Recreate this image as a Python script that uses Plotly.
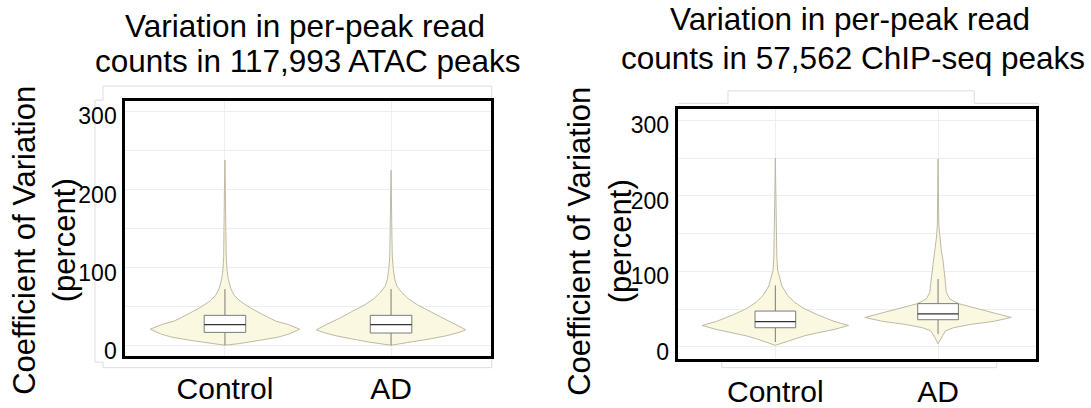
import plotly.graph_objects as go

W, H = 1091, 408

categories = ["Control", "AD"]
panel_titles = [["Variation in per-peak read", "counts in 117,993 ATAC peaks"],
                ["Variation in per-peak read", "counts in 57,562 ChIP-seq peaks"]]
y_title = "Coefficient of Variation<br>(percent)"
y_tick_vals = [0, 100, 200, 300]

# ---- ATAC panel: violin profiles (value, relative density) ----
atac_ctrl_y = [0.8, 2.9, 7, 11.1, 15.2, 21.3, 27.5, 31.6, 39.8, 48, 56.3, 64.4, 72.7, 85, 97.3, 113.7, 146.5, 200, 237.7]
atac_ctrl_d = [0, 0.19, 0.46, 0.71, 0.86, 1.0, 0.84, 0.68, 0.51, 0.35, 0.215, 0.125, 0.08, 0.045, 0.027, 0.017, 0.012, 0.007, 0]
atac_ad_y = [0.8, 4.9, 9, 13.1, 17.2, 20.5, 27.5, 35.7, 44, 52, 60.3, 68.6, 76.7, 85, 97.3, 113.7, 138, 180, 224.5]
atac_ad_d = [0, 0.30, 0.53, 0.75, 0.91, 1.0, 0.86, 0.68, 0.52, 0.36, 0.23, 0.14, 0.077, 0.05, 0.031, 0.017, 0.012, 0.007, 0]
# box stats [Control, AD]
atac_q1 = [17.2, 16.4]
atac_median = [27.1, 27.1]
atac_q3 = [39.0, 39.0]
atac_lower = [1.0, 1.0]
atac_upper = [72.7, 72.7]

# ---- ChIP-seq panel ----
chip_ctrl_y = [2.1, 3.8, 10.2, 14.5, 18.7, 23, 28.4, 33.9, 42.4, 50.9, 59.4, 67.9, 80.6, 93.3, 101.8, 120, 152.7, 200, 250]
chip_ctrl_d = [0, 0.05, 0.24, 0.39, 0.58, 0.8, 1.0, 0.8, 0.58, 0.39, 0.26, 0.17, 0.09, 0.054, 0.031, 0.02, 0.013, 0.007, 0]
chip_ad_y = [4.2, 12.7, 21.2, 25.4, 29.7, 33.9, 39, 44.5, 50.9, 57.3, 63.6, 72.1, 84.8, 101.8, 114.5, 127.2, 144.2, 161.2, 186.6, 249]
chip_ad_d = [0, 0.045, 0.1, 0.21, 0.44, 0.76, 1.0, 0.78, 0.53, 0.28, 0.16, 0.113, 0.1, 0.086, 0.068, 0.045, 0.023, 0.01, 0.007, 0]
chip_q1 = [25.4, 36.0]
chip_median = [33.5, 43.7]
chip_q3 = [47.5, 57.3]
chip_lower = [6.4, 17.0]
chip_upper = [81.4, 89.9]

FONT = "Liberation Sans, Arial, sans-serif"
VIOLIN_FILL = "#FBF8E1"
VIOLIN_LINE = "#bdb9a4"
BOX_LINE = "#7a7a7a"
MEDIAN_LINE = "#333333"
HALF_WIDTH = 0.45
BOX_WIDTH = 0.25

fig = go.Figure()

panels = [
    dict(xa="x", ya="y", profiles=[(atac_ctrl_y, atac_ctrl_d), (atac_ad_y, atac_ad_d)],
         q1=atac_q1, med=atac_median, q3=atac_q3, lo=atac_lower, hi=atac_upper),
    dict(xa="x2", ya="y2", profiles=[(chip_ctrl_y, chip_ctrl_d), (chip_ad_y, chip_ad_d)],
         q1=chip_q1, med=chip_median, q3=chip_q3, lo=chip_lower, hi=chip_upper),
]

common = dict(showlegend=False, hoverinfo="skip")
for p in panels:
    ax = dict(xaxis=p["xa"], yaxis=p["ya"])
    for i, (ys, ds) in enumerate(p["profiles"]):
        pos = i + 1
        xs = [pos + HALF_WIDTH * d for d in ds] + [pos - HALF_WIDTH * d for d in reversed(ds)]
        yy = list(ys) + list(reversed(ys))
        fig.add_trace(go.Scatter(x=xs, y=yy, mode="lines", fill="toself",
                                 fillcolor=VIOLIN_FILL, line=dict(color=VIOLIN_LINE, width=1),
                                 **ax, **common))
    for i in range(len(categories)):
        pos = i + 1
        a, b = pos - BOX_WIDTH / 2, pos + BOX_WIDTH / 2
        # whiskers
        fig.add_trace(go.Scatter(x=[pos, pos, None, pos, pos],
                                 y=[p["q3"][i], p["hi"][i], None, p["q1"][i], p["lo"][i]],
                                 mode="lines", line=dict(color=BOX_LINE, width=1), **ax, **common))
        # box
        fig.add_trace(go.Scatter(x=[a, b, b, a, a],
                                 y=[p["q1"][i], p["q1"][i], p["q3"][i], p["q3"][i], p["q1"][i]],
                                 mode="lines", fill="toself", fillcolor="white",
                                 line=dict(color=BOX_LINE, width=1), **ax, **common))
        # median
        fig.add_trace(go.Scatter(x=[a, b], y=[p["med"][i], p["med"][i]], mode="lines",
                                 line=dict(color=MEDIAN_LINE, width=1.2), **ax, **common))

def px(x, y):
    return x / W, 1 - y / H

l_dom_x = [125.3 / W, 490.7 / W]
r_dom_x = [677.7 / W, 1035.7 / W]
l_dom_y = [1 - 370 / H, 1 - 105 / H]
r_dom_y = [1 - 372.7 / H, 1 - 113.5 / H]

axis_common = dict(showline=True, linecolor="black", linewidth=3, mirror=True,
                   showgrid=True, gridcolor="#eeeeee", gridwidth=1, zeroline=False,
                   ticks="", color="black")
x_common = dict(range=[0.4, 2.6], tickvals=[1, 2], ticktext=categories,
                tickfont=dict(size=30), ticklabelstandoff=4, **axis_common)
y_common = dict(tickvals=y_tick_vals, tickfont=dict(size=23), ticklabelshift=5, ticklabelstandoff=1,
                minor=dict(tick0=0, dtick=50, showgrid=True, gridcolor="#eeeeee"), **axis_common)

fig.update_layout(
    width=W, height=H, margin=dict(l=0, r=0, t=0, b=0),
    paper_bgcolor="white", plot_bgcolor="white",
    font=dict(family=FONT, color="black"),
    xaxis=dict(domain=l_dom_x, anchor="y", **x_common),
    yaxis=dict(domain=l_dom_y, anchor="x", range=[-13.5, 313], **y_common),
    xaxis2=dict(domain=r_dom_x, anchor="y2", **x_common),
    yaxis2=dict(domain=r_dom_y, anchor="x2", range=[-16, 314.6], **y_common),
)

# faint background panel outlines
def path(points):
    s = ""
    for k, (x, y) in enumerate(points):
        fx, fy = px(x, y)
        s += ("M" if k == 0 else "L") + f"{fx:.5f},{fy:.5f} "
    return s

outline_l = [(103, 89.3), (491.7, 89.3), (491.7, 381.7), (103, 381.7), (103, 376), (95, 376), (95, 104), (103, 104), (103, 89.3)]
outline_r = [(678, 107.3), (728, 107.3), (728, 94.3), (974.3, 94.3), (974.3, 107.3), (1038.3, 107.3),
             (1038.3, 375), (996.7, 375), (996.7, 381.7), (721.7, 381.7), (721.7, 373)]
for pts in (outline_l, outline_r):
    fig.add_shape(type="path", path=path(pts), xref="paper", yref="paper",
                  line=dict(color="#dddddd", width=1), layer="below")

TITLE_SIZE = 31.5
annos = [
    (305, 26.5, panel_titles[0][0], 0, TITLE_SIZE),
    (308, 63.0, panel_titles[0][1], 0, TITLE_SIZE),
    (850, 20.0, panel_titles[1][0], 0, TITLE_SIZE),
    (853, 60.5, panel_titles[1][1], 0, TITLE_SIZE),
    (45, 250, y_title, -90, 31),
    (600, 251, y_title, -90, 31),
]
for x, y, t, ang, sz in annos:
    fx, fy = px(x, y)
    fig.add_annotation(x=fx, y=fy, xref="paper", yref="paper", text=t, showarrow=False,
                       textangle=ang, font=dict(size=sz, color="black", family=FONT),
                       xanchor="center", yanchor="middle", align="center")

fig.write_html("out.html")
